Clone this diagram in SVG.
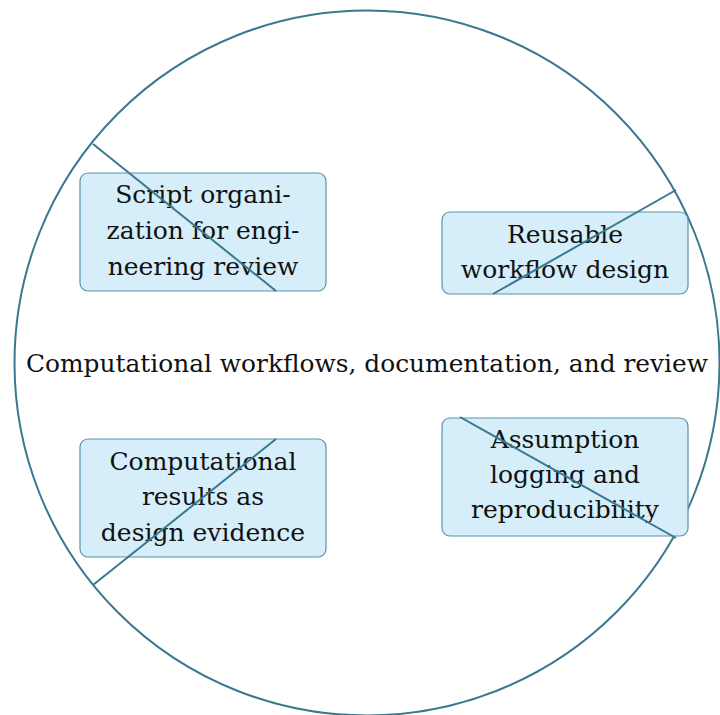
<svg xmlns="http://www.w3.org/2000/svg" width="720" height="715" viewBox="0 0 720 715">
  <style>
    .hub { fill: none; stroke: #3a788f; stroke-width: 2; }
    .box { fill: #d5eef9; stroke: #5b93aa; stroke-width: 1.2; }
    .lbl { font-family: "DejaVu Serif", "Liberation Serif", serif; font-size: 25px; fill: #111111; text-anchor: middle; }
    .edge { stroke: #3a788f; stroke-width: 2; fill: none; }
  </style>
  <rect width="720" height="715" fill="#ffffff"/>

  <!-- central theme -->
  <g id="hub">
    <circle class="hub" cx="367" cy="363" r="352.5"/>
    <text class="lbl" x="367" y="372" textLength="682" lengthAdjust="spacingAndGlyphs">Computational workflows, documentation, and review</text>
  </g>

  <g id="script-organization">
    <rect class="box" x="80" y="173" width="246" height="118" rx="8"/>
    <text class="lbl" x="203" y="203">Script organi-</text>
    <text class="lbl" x="203" y="239">zation for engi-</text>
    <text class="lbl" x="203" y="275">neering review</text>
  </g>

  <g id="reusable-workflow">
    <rect class="box" x="442" y="212" width="246" height="82" rx="8"/>
    <text class="lbl" x="565" y="243">Reusable</text>
    <text class="lbl" x="565" y="278">workflow design</text>
  </g>

  <g id="results-evidence">
    <rect class="box" x="80" y="439" width="246" height="118" rx="8"/>
    <text class="lbl" x="203" y="470">Computational</text>
    <text class="lbl" x="203" y="505">results as</text>
    <text class="lbl" x="203" y="541">design evidence</text>
  </g>

  <g id="assumption-logging">
    <rect class="box" x="442" y="418" width="246" height="118" rx="8"/>
    <text class="lbl" x="565" y="448">Assumption</text>
    <text class="lbl" x="565" y="483">logging and</text>
    <text class="lbl" x="565" y="518">reproducibility</text>
  </g>

  <!-- spokes from the rim to each topic -->
  <g id="connectors">
    <line class="edge" x1="93" y1="144" x2="276" y2="291"/>
    <line class="edge" x1="676" y1="190" x2="493" y2="294"/>
    <line class="edge" x1="93" y1="585" x2="276" y2="439"/>
    <line class="edge" x1="460" y1="417" x2="676" y2="538"/>
  </g>
</svg>
